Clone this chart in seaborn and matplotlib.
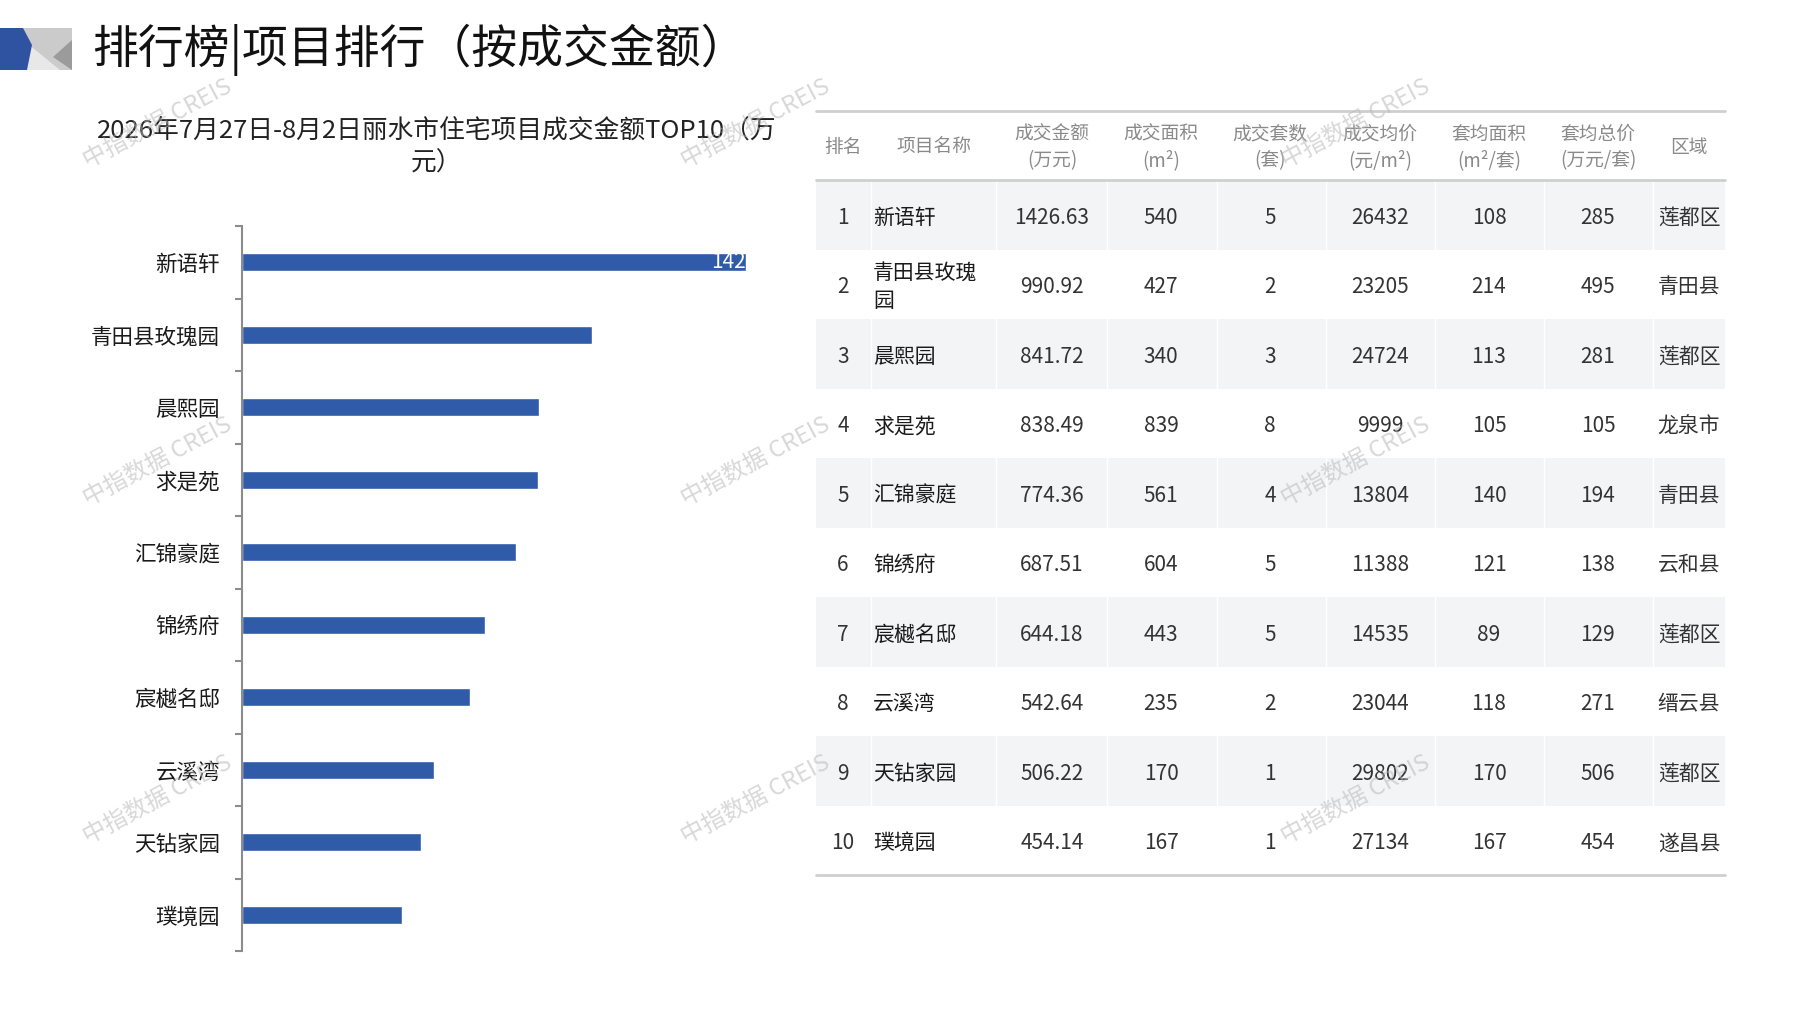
import numpy as np
import matplotlib
matplotlib.use("Agg")
import matplotlib.pyplot as plt
from matplotlib.patches import Polygon, Rectangle
import seaborn as sns

# 数据
ranks = ["1", "2", "3", "4", "5", "6", "7", "8", "9", "10"]
names = ["新语轩", "青田县玫瑰园", "晨熙园", "求是苑", "汇锦豪庭",
         "锦绣府", "宸樾名邸", "云溪湾", "天钻家园", "璞境园"]
table_names = ["新语轩", "青田县玫瑰\n园", "晨熙园", "求是苑", "汇锦豪庭",
               "锦绣府", "宸樾名邸", "云溪湾", "天钻家园", "璞境园"]
amount = [1426.63, 990.92, 841.72, 838.49, 774.36, 687.51, 644.18, 542.64, 506.22, 454.14]
area = [540, 427, 340, 839, 561, 604, 443, 235, 170, 167]
units = [5, 2, 3, 8, 4, 5, 5, 2, 1, 1]
avg_price = [26432, 23205, 24724, 9999, 13804, 11388, 14535, 23044, 29802, 27134]
avg_area = [108, 214, 113, 105, 140, 121, 89, 118, 170, 167]
avg_total = [285, 495, 281, 105, 194, 138, 129, 271, 506, 454]
district = ["莲都区", "青田县", "莲都区", "龙泉市", "青田县",
            "云和县", "莲都区", "缙云县", "莲都区", "遂昌县"]
header_top = ["排名", "项目名称", "成交金额", "成交面积", "成交套数",
              "成交均价", "套均面积", "套均总价", "区域"]
header_bot = ["", "", "(万元)", "(m²)", "(套)", "(元/m²)", "(m²/套)", "(万元/套)", ""]
bar_value_label = "142"

page_title = "排行榜|项目排行（按成交金额）"
chart_title = "2026年7月27日-8月2日丽水市住宅项目成交金额TOP10（万\n元）"
watermark = "中指数据 CREIS"

sns.set_theme(style="white")
plt.rcParams['font.family'] = ['Noto Sans CJK SC', 'DejaVu Sans']

W, H = 1797, 1010
fig = plt.figure(figsize=(W / 100, H / 100), dpi=100)
fig.patch.set_facecolor("white")

# 条形图
ax = fig.add_axes([242 / W, 1 - 951 / H, 504 / W, 725 / H])
sns.barplot(x=amount, y=names, orient="h", color="#2f5ba8", width=0.25,
            saturation=1, ax=ax)
ax.set_xlim(0, max(amount))
ax.set_ylim(9.5, -0.5)
for s in ["top", "right", "bottom"]:
    ax.spines[s].set_visible(False)
ax.spines["left"].set_color("#8c8c8c")
ax.spines["left"].set_linewidth(1.5)
ax.set_xticks([])
ax.set_yticks(np.arange(-0.5, 10, 1), minor=True)
ax.tick_params(axis="y", which="major", length=0, pad=16, labelsize=15.5, labelcolor="#1a1a1a")
ax.tick_params(axis="y", which="minor", length=5, width=1.5, color="#8c8c8c", left=True)
ax.set_xlabel("")
ax.set_ylabel("")
ax.patch.set_alpha(0)
ax.text(amount[0], 0, bar_value_label, ha="right", va="center", color="white", fontsize=15)

# 叠加层（像素坐标）
ov = fig.add_axes([0, 0, 1, 1])
ov.set_xlim(0, W)
ov.set_ylim(H, 0)
ov.axis("off")
ov.patch.set_alpha(0)

# 标题图标
ov.add_patch(Rectangle((0, 28), 72, 42, color="#cbcbcb", lw=0))
ov.add_patch(Polygon([(28, 44), (60, 70), (26, 70)], closed=True, color="#e8e8e8", lw=0))
ov.add_patch(Polygon([(72, 40), (53, 57), (72, 70)], closed=True, color="#9b9b9b", lw=0))
ov.add_patch(Polygon([(0, 28), (23, 28), (32, 45), (27, 70), (0, 70)], closed=True,
                     color="#2f53a0", lw=0))
ov.text(92, 50, page_title, fontsize=33, color="#111111", va="center", ha="left")
ov.text(437, 147, chart_title, fontsize=18.5, color="#222222", va="center", ha="center",
        linespacing=1.35)

# 表格
t_left, t_right = 816, 1725
t_top, h_bot = 111, 180
row_h = 69.5
col_x = [843, 934, 1052, 1161, 1270, 1380, 1489, 1598, 1689]
seps = [871, 996, 1107, 1217, 1326, 1435, 1544, 1653]

for i in range(len(ranks)):
    y0 = h_bot + i * row_h
    if i % 2 == 0:
        ov.add_patch(Rectangle((t_left, y0), t_right - t_left, row_h, color="#f3f4f6", lw=0))
for sx in seps:
    ov.plot([sx, sx], [h_bot, h_bot + 10 * row_h], color="white", lw=1)
for yy in [t_top, h_bot, h_bot + 10 * row_h]:
    ov.plot([t_left, t_right], [yy, yy], color="#cfcfcf", lw=2)

for j, cx in enumerate(col_x):
    if header_bot[j]:
        ov.text(cx, 134, header_top[j], ha="center", va="center", fontsize=13.5, color="#8a8a8a")
        ov.text(cx, 161, header_bot[j], ha="center", va="center", fontsize=13.5, color="#8a8a8a")
    else:
        ov.text(cx, 147, header_top[j], ha="center", va="center", fontsize=13.5, color="#8a8a8a")

for i in range(len(ranks)):
    yc = h_bot + (i + 0.5) * row_h + 3
    ov.text(col_x[0], yc, ranks[i], ha="center", va="center", fontsize=15, color="#333333")
    ov.text(873, yc, table_names[i], ha="left", va="center", fontsize=15, color="#1a1a1a",
            fontweight="medium", linespacing=1.3)
    vals = [f"{amount[i]:.2f}", str(area[i]), str(units[i]), str(avg_price[i]),
            str(avg_area[i]), str(avg_total[i])]
    for k, v in enumerate(vals):
        ov.text(col_x[2 + k], yc, v, ha="center", va="center", fontsize=15, color="#333333")
    ov.text(col_x[8], yc, district[i], ha="center", va="center", fontsize=15, color="#333333")

# 水印
for wx in [158, 756, 1356]:
    for wy in [124, 462, 800]:
        ov.text(wx, wy, watermark, ha="center", va="center", fontsize=17, color="#b8b8b8",
                alpha=0.55, rotation=28, zorder=10)

fig.savefig("out.png", dpi=100)
